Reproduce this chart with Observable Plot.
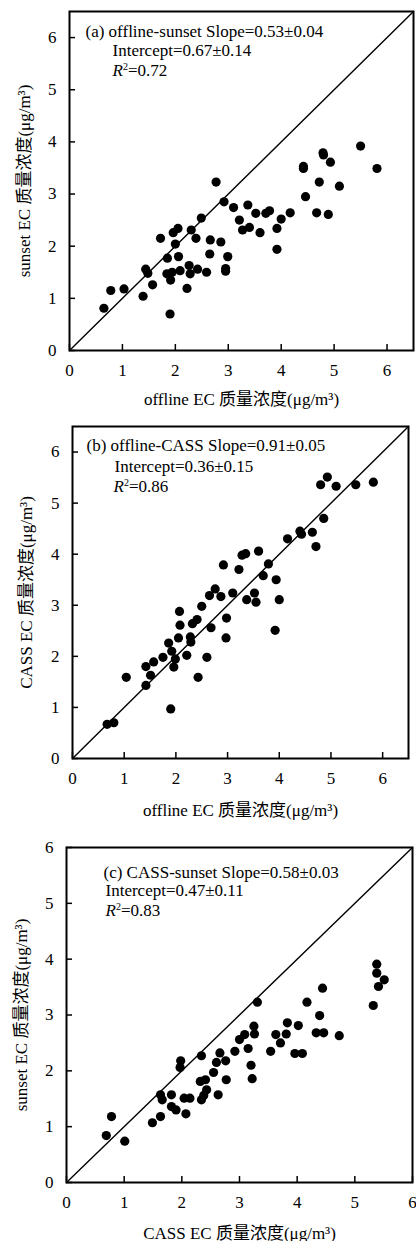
<!DOCTYPE html>
<html><head><meta charset="utf-8">
<script src="https://cdn.jsdelivr.net/npm/d3@7"></script>
<script src="https://cdn.jsdelivr.net/npm/@observablehq/plot@0.6"></script>
<style>
body{margin:0;background:#fff;}
#charts{width:416px;}
#charts svg{display:block;}
#charts svg text{font-family:"Liberation Serif","Times New Roman","Noto Sans CJK SC",serif !important;}
</style></head><body><div id="charts"></div>
<script>
// ---------- Panel (a): offline EC vs sunset EC ----------
const aOffline = [0.65,0.78,1.03,1.39,1.44,1.48,1.57,1.72,1.85,1.84,1.91,1.90,1.94,1.96,2.05,2.00,2.06,2.09,2.22,2.26,2.28,2.30,2.39,2.42,2.49,2.59,2.66,2.65,2.77,2.86,2.92,2.95,2.99,3.10,3.21,3.27,3.37,3.40,3.52,3.60,3.71,3.78,3.92,3.92,4.00,4.17,4.42,4.46,5.50,4.80,4.93,5.81,4.72,5.10,4.67,4.89,2.95,4.42,4.79];
const aSunset  = [0.81,1.15,1.18,1.04,1.56,1.48,1.26,2.15,1.77,1.47,1.35,0.70,1.50,2.26,2.34,2.04,1.80,1.53,1.19,1.63,1.47,2.31,2.15,1.56,2.54,1.50,2.12,1.85,3.23,2.08,2.85,1.52,1.80,2.74,2.50,2.31,2.79,2.36,2.63,2.26,2.63,2.68,2.34,1.94,2.52,2.64,3.49,2.95,3.92,3.75,3.61,3.49,3.23,3.15,2.64,2.61,1.57,3.53,3.79];

// ---------- Panel (b): offline EC vs CASS EC ----------
const bOffline = [0.67,0.80,1.04,1.42,1.42,1.51,1.57,1.90,1.75,1.86,1.92,1.96,1.99,2.05,2.08,2.07,2.21,2.28,2.29,2.32,2.41,2.43,2.50,2.60,2.68,2.65,2.76,2.87,2.92,2.97,2.98,3.10,3.22,3.28,3.35,3.60,3.37,3.52,3.55,3.69,3.79,3.94,4.00,3.92,4.93,4.80,5.10,5.48,5.82,4.86,4.16,4.40,4.43,4.64,4.71];
const bCass    = [0.67,0.70,1.59,1.43,1.80,1.63,1.89,0.97,1.98,2.26,2.10,1.79,1.95,2.36,2.61,2.88,2.02,2.38,2.28,2.64,2.72,1.59,2.98,1.98,2.56,3.19,3.32,3.17,3.79,2.36,2.75,3.24,3.70,3.98,4.01,4.06,3.11,3.24,3.06,3.58,3.81,3.50,3.11,2.51,5.51,5.36,5.33,5.36,5.41,4.70,4.30,4.45,4.39,4.43,4.15];

// ---------- Panel (c): CASS EC vs sunset EC ----------
const cCass    = [0.69,0.78,1.01,1.49,1.63,1.63,1.66,1.82,1.82,1.90,2.07,2.04,2.14,1.98,1.97,2.34,2.32,2.41,2.34,2.38,2.43,2.55,2.60,2.66,2.63,2.76,2.77,2.92,3.00,3.09,3.25,3.26,3.15,3.20,3.22,3.31,3.54,4.44,4.17,4.39,3.83,4.02,3.63,3.71,3.81,4.33,4.46,4.73,3.96,4.09,5.38,5.38,5.51,5.41,5.32];
const cSunset  = [0.84,1.18,0.74,1.07,1.18,1.57,1.48,1.57,1.36,1.30,1.23,1.51,1.51,2.18,2.06,2.27,1.81,1.84,1.48,1.56,1.66,1.97,2.15,2.32,1.57,2.18,1.84,2.35,2.56,2.65,2.80,2.66,2.40,2.10,1.86,3.23,2.35,3.48,3.23,2.99,2.86,2.81,2.65,2.50,2.66,2.68,2.68,2.63,2.31,2.31,3.91,3.75,3.63,3.51,3.17];

// ---------- Axis ticks, domains and texts ----------
const ticksAB = [0,1,2,3,4,5,6];
const ticksC  = [0,1,2,3,4,5,6];
const domainAB = [0, 6.5];
const domainC  = [0, 6];

const notesA = ["(a) offline-sunset Slope=0.53±0.04", "Intercept=0.67±0.14", "R²=0.72"];
const notesB = ["(b) offline-CASS Slope=0.91±0.05", "Intercept=0.36±0.15", "R²=0.86"];
const notesC = ["(c) CASS-sunset Slope=0.58±0.03", "Intercept=0.47±0.11", "R²=0.83"];

const xLabelA = "offline EC 质量浓度(μg/m³)";
const yLabelA = "sunset EC 质量浓度(μg/m³)";
const xLabelB = "offline EC 质量浓度(μg/m³)";
const yLabelB = "CASS EC 质量浓度(μg/m³)";
const xLabelC = "CASS EC 质量浓度(μg/m³)";
const yLabelC = "sunset EC 质量浓度(μg/m³)";

const FONT = '"Liberation Serif","Times New Roman","Noto Sans CJK SC",serif';

function panel(o) {
  const idx = d3.range(o.xs.length);
  const diag = o.domain; // 1:1 line endpoints from the domain
  const txt = {fontSize: 17, fontFamily: FONT, fill: "black"};
  const marks = [
    Plot.line(diag, {x: d => d, y: d => d, stroke: "black", strokeWidth: 1.4}),
    Plot.dot(idx, {x: i => o.xs[i], y: i => o.ys[i], r: 4.6, fill: "black", stroke: "none"}),
    Plot.frame({stroke: "black", strokeWidth: 2}),
    Plot.axisX(o.ticks, {tickSize: 6, dy: -6, text: null, label: null, strokeWidth: 1.5}),
    Plot.axisY(o.ticks, {tickSize: 6, dx: 6, text: null, label: null, strokeWidth: 1.5}),
    Plot.axisX(o.ticks, {tickSize: 0, tickPadding: 13, tickFormat: "d", label: null, ...txt}),
    Plot.axisY(o.ticks, {tickSize: 0, tickPadding: 13, tickFormat: "d", label: null, ...txt}),
    Plot.text([o.xLabel], {frameAnchor: "bottom", textAnchor: "middle", lineAnchor: "middle", dy: o.xLabDy, ...txt}),
    Plot.text([o.yLabel], {frameAnchor: "left", textAnchor: "middle", lineAnchor: "middle", rotate: -90, dx: o.yLabDx, ...txt}),
    Plot.text([o.notes[0]], {frameAnchor: "top-left", textAnchor: "start", lineAnchor: "middle", dx: o.n1[0], dy: o.n1[1], ...txt}),
    Plot.text([o.notes[1]], {frameAnchor: "top-left", textAnchor: "start", lineAnchor: "middle", dx: o.n2[0], dy: o.n2[1], ...txt}),
    Plot.text([o.notes[2]], {frameAnchor: "top-left", textAnchor: "start", lineAnchor: "middle", dx: o.n3[0], dy: o.n3[1], ...txt})
  ];
  const svg = Plot.plot({
    width: 416,
    height: o.height,
    marginTop: o.mt, marginBottom: o.mb, marginLeft: o.ml, marginRight: o.mr,
    x: {domain: o.domain},
    y: {domain: o.domain},
    style: {fontFamily: FONT, background: "white", color: "black", overflow: "visible"},
    marks
  });
  // italic R with superscript 2
  svg.querySelectorAll("text").forEach(t => {
    const s = t.textContent;
    if (s.startsWith("R²=")) {
      const rest = s.slice(2);
      t.textContent = "";
      const ns = "http://www.w3.org/2000/svg";
      const r = document.createElementNS(ns, "tspan");
      r.setAttribute("font-style", "italic"); r.textContent = "R";
      const sup = document.createElementNS(ns, "tspan");
      sup.setAttribute("font-size", "10"); sup.setAttribute("dy", "-6"); sup.textContent = "2";
      const tail = document.createElementNS(ns, "tspan");
      tail.setAttribute("dy", "6"); tail.textContent = rest;
      t.append(r, sup, tail);
    }
  });
  return svg;
}

const root = document.getElementById("charts");
root.append(panel({
  xs: aOffline, ys: aSunset, domain: domainAB, ticks: ticksAB,
  height: 410, mt: 11, mb: 60, ml: 69, mr: 3,
  xLabel: xLabelA, yLabel: yLabelA, xLabDy: 49, yLabDx: -45,
  notes: notesA, n1: [16, 20], n2: [43, 39.5], n3: [43, 59]
}));
root.append(panel({
  xs: bOffline, ys: bCass, domain: domainAB, ticks: ticksAB,
  height: 420, mt: 16, mb: 72, ml: 72, mr: 8,
  xLabel: xLabelB, yLabel: yLabelB, xLabDy: 52.5, yLabDx: -46,
  notes: notesB, n1: [14, 19], n2: [42, 40.5], n3: [41, 60.5]
}));
root.append(panel({
  xs: cCass, ys: cSunset, domain: domainC, ticks: ticksC,
  height: 411, mt: 17, mb: 59, ml: 66, mr: 4,
  xLabel: xLabelC, yLabel: yLabelC, xLabDy: 51, yLabDx: -45,
  notes: notesC, n1: [37, 25], n2: [39, 43], n3: [39, 63]
}));
</script></body></html>
